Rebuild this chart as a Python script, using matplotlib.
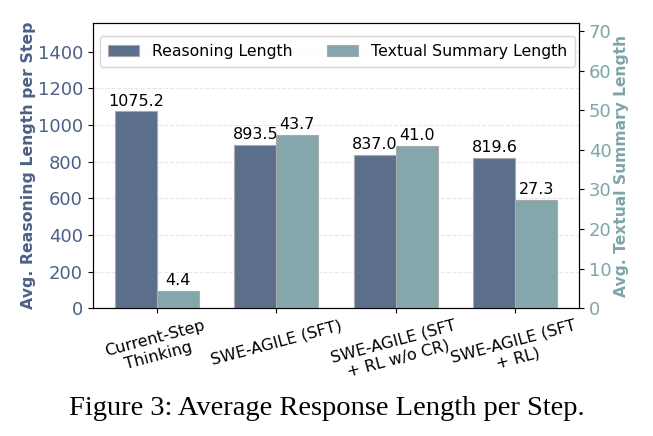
import numpy as np
import matplotlib
matplotlib.use("Agg")
import matplotlib.pyplot as plt

# data
categories = ["Current-Step\nThinking", "SWE-AGILE (SFT)",
              "SWE-AGILE (SFT\n+ RL w/o CR)", "SWE-AGILE (SFT\n+ RL)"]
reasoning_len = [1075.2, 893.5, 837.0, 819.6]
summary_len = [4.4, 43.7, 41.0, 27.3]

c_dark = "#5b6e8c"
c_light = "#84a7ab"
c_label_l = "#4c6185"
c_label_r = "#7ea5a9"

fig = plt.figure(figsize=(6.53, 4.36), dpi=100)
ax = fig.add_axes([0.142, 0.293, 0.745, 0.655])
ax2 = ax.twinx()

x = np.arange(len(categories))
w = 0.35

b1 = ax.bar(x - w / 2, reasoning_len, w, color=c_dark, edgecolor="#aaaaaa",
            linewidth=0.8, label="Reasoning Length")
b2 = ax2.bar(x + w / 2, summary_len, w, color=c_light, edgecolor="#aaaaaa",
             linewidth=0.8, label="Textual Summary Length")

ax.set_ylim(0, max(reasoning_len) * 1.45)
ax2.set_ylim(0, max(summary_len) * 1.65)
ax.set_yticks(np.arange(0, 1401, 200))
ax2.set_yticks(np.arange(0, 71, 10))

for r in b1:
    ax.text(r.get_x() + r.get_width() / 2, r.get_height() + 15,
            "%.1f" % r.get_height(), ha="center", va="bottom", fontsize=11.5)
for r in b2:
    ax2.text(r.get_x() + r.get_width() / 2, r.get_height() + 0.7,
             "%.1f" % r.get_height(), ha="center", va="bottom", fontsize=11.5)

ax.set_xticks(x)
ax.set_xticklabels(categories, rotation=15, fontsize=11.5, ha="center")
ax.tick_params(axis="y", labelsize=13, colors=c_label_l)
ax.tick_params(axis="y", color="black")
ax2.tick_params(axis="y", labelsize=13, labelcolor=c_label_r, color="black")
for t in ax.get_yticklabels():
    t.set_color(c_label_l)

ax.set_ylabel("Avg. Reasoning Length per Step", fontsize=11.3,
              fontweight="bold", color=c_label_l, labelpad=1)
ax2.set_ylabel("Avg. Textual Summary Length", fontsize=11.2,
               fontweight="bold", color=c_label_r, labelpad=2)

ax.grid(axis="y", linestyle="--", alpha=0.3)
ax.set_axisbelow(True)

h1, l1 = ax.get_legend_handles_labels()
h2, l2 = ax2.get_legend_handles_labels()
ax2.legend(h1 + h2, l1 + l2, loc="upper left", ncol=2, fontsize=11.3,
           framealpha=0.8, handlelength=2.0, columnspacing=2.2,
           borderpad=0.5, borderaxespad=0, bbox_to_anchor=(0.0144, 0.954))

fig.text(0.5, 0.063, "Figure 3: Average Response Length per Step.",
         ha="center", va="center", fontsize=20.5, family="Liberation Serif")

fig.savefig("out.png", dpi=100)
